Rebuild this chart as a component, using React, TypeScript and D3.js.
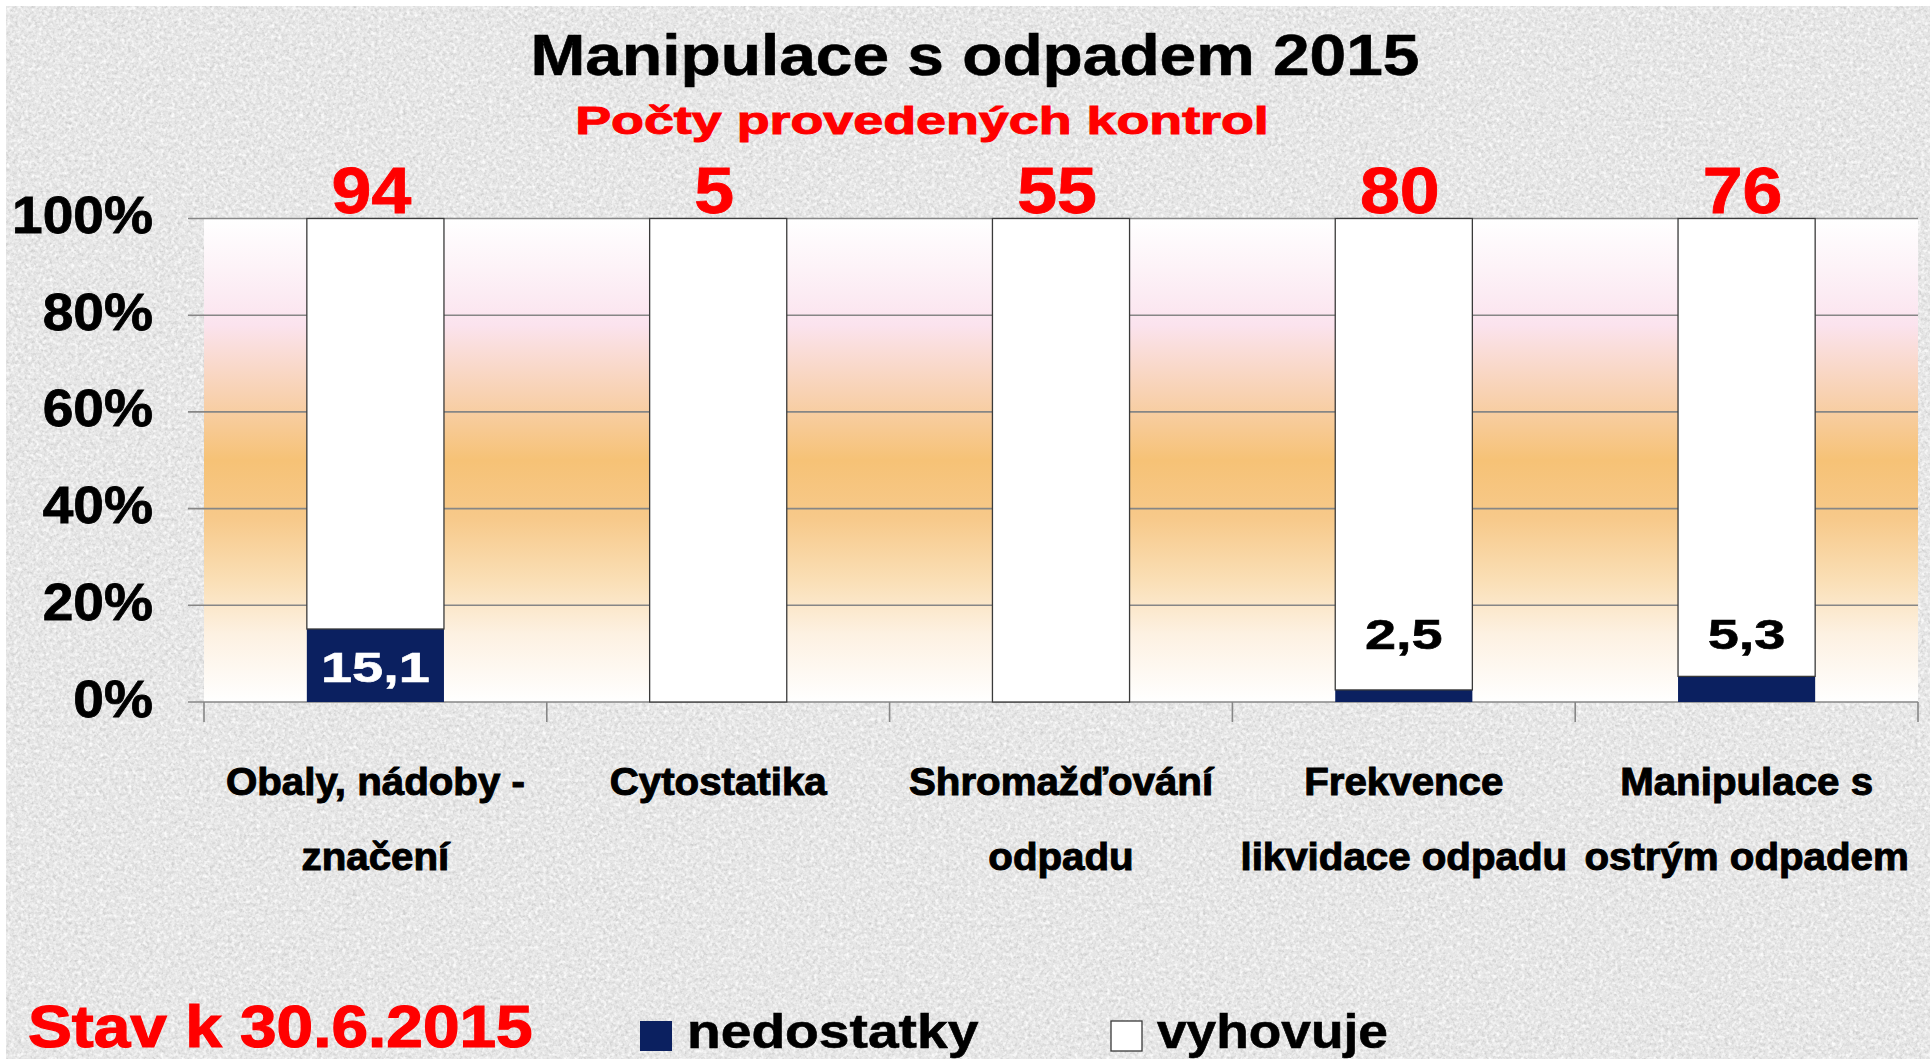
import React from "react";
import * as d3 from "d3";

const categoryLines: string[][] = [
  ["Obaly, nádoby -", "značení"],
  ["Cytostatika"],
  ["Shromažďování", "odpadu"],
  ["Frekvence", "likvidace odpadu"],
  ["Manipulace s", "ostrým odpadem"],
];
const categories = categoryLines.map((l) => l.join(" "));
const counts = [94, 5, 55, 80, 76];
const nedostatky = [15.1, 0, 0, 2.5, 5.3];
const vyhovuje = [84.9, 100, 100, 97.5, 94.7];
const yTicks = [0, 20, 40, 60, 80, 100];
const seriesKeys = ["nedostatky", "vyhovuje"];
const seriesColors = ["#0b2060", "#ffffff"];

const W = 1930;
const H = 1059;
const FONT = "'Liberation Sans', Arial, Helvetica, sans-serif";

export default function App() {
  const rows = categories.map((c, i) => ({
    cat: c,
    nedostatky: nedostatky[i],
    vyhovuje: vyhovuje[i],
  }));
  const stacked = d3.stack<any>().keys(seriesKeys)(rows);

  const xCat = d3.scaleBand<string>().domain(categories).range([204, 1918]).padding(0);
  const x = d3
    .scaleBand<string>()
    .domain(categories)
    .range([204, 1918])
    .paddingInner(0.6)
    .paddingOuter(0.3);
  const y = d3.scaleLinear().domain([0, 100]).range([702, 218.5]);
  const fmt = d3.formatLocale({ decimal: ",", thousands: " ", grouping: [3], currency: ["", " Kč"] }).format(".1f");

  const plotL = xCat.range()[0];
  const plotR = xCat.range()[1];

  return (
    <svg
      width={W}
      height={H}
      style={{ position: "absolute", left: 0, top: 0, display: "block" }}
      fontFamily={FONT}
      fontWeight="bold"
    >
      <defs>
        <filter id="noise" x="0" y="0" width="100%" height="100%">
          <feTurbulence type="fractalNoise" baseFrequency="0.32" numOctaves="3" seed="7" result="t" />
          <feColorMatrix
            in="t"
            type="matrix"
            values="0 0 0 0 0.6  0 0 0 0 0.6  0 0 0 0 0.6  2.2 0 0 0 -0.95"
          />
        </filter>
        <filter id="noise2" x="0" y="0" width="100%" height="100%">
          <feTurbulence type="fractalNoise" baseFrequency="0.28" numOctaves="2" seed="21" result="t" />
          <feColorMatrix
            in="t"
            type="matrix"
            values="0 0 0 0 1  0 0 0 0 1  0 0 0 0 1  2.2 0 0 0 -0.95"
          />
        </filter>
        <linearGradient id="band" x1="0" y1="0" x2="0" y2="1">
          <stop offset="0" stopColor="#ffffff" />
          <stop offset="0.1" stopColor="#fdf3f8" />
          <stop offset="0.22" stopColor="#fbe3ee" />
          <stop offset="0.36" stopColor="#f8d2b3" />
          <stop offset="0.5" stopColor="#f6c276" />
          <stop offset="0.62" stopColor="#f7c98a" />
          <stop offset="0.75" stopColor="#fadfb6" />
          <stop offset="0.86" stopColor="#fdf1e2" />
          <stop offset="1" stopColor="#ffffff" />
        </linearGradient>
      </defs>

      {/* textured background */}
      <rect x={0} y={0} width={W} height={H} fill="#ffffff" />
      <rect x={6} y={6} width={W - 6} height={H - 6} fill="#e6e6e6" />
      <rect x={6} y={6} width={W - 6} height={H - 6} filter="url(#noise)" />
      <rect x={6} y={6} width={W - 6} height={H - 6} filter="url(#noise2)" />

      {/* plot area */}
      <rect x={plotL} y={y(100)} width={plotR - plotL} height={y(0) - y(100)} fill="url(#band)" />

      {/* gridlines */}
      {yTicks.map((t) => (
        <line key={t} x1={188} x2={plotR} y1={y(t)} y2={y(t)} stroke="#868686" strokeWidth={1.6} />
      ))}

      {/* category ticks */}
      {[...categories.map((c) => xCat(c) as number), plotR].map((xx, i) => (
        <line key={i} x1={xx} x2={xx} y1={y(0)} y2={y(0) + 20} stroke="#868686" strokeWidth={1.6} />
      ))}

      {/* bars */}
      {stacked.map((s, si) =>
        s.map((d, i) => (
          <rect
            key={si + "-" + i}
            x={x(categories[i])}
            y={y(d[1])}
            width={x.bandwidth()}
            height={Math.max(0, y(d[0]) - y(d[1]))}
            fill={seriesColors[si]}
            stroke={si === 1 ? "#3a3a3a" : "none"}
            strokeWidth={1.3}
          />
        ))
      )}

      {/* y labels */}
      {yTicks.map((t) => (
        <text
          key={t}
          transform={`translate(153,${y(t) + 14.5}) scale(1.06,1)`}
          textAnchor="end"
          fontSize={52}
          fill="#000"
          stroke="#000"
          strokeWidth={0.8}
        >
          {t + "%"}
        </text>
      ))}

      {/* data labels */}
      {nedostatky.map((v, i) => {
        if (!v) return null;
        const inside = v > 10;
        const cx = (x(categories[i]) as number) + x.bandwidth() / 2;
        const by = inside ? y(v / 2) + 17 : y(11);
        return (
          <text
            key={i}
            transform={`translate(${cx},${by}) scale(1.3,1)`}
            textAnchor="middle"
            fontSize={43}
            fill={inside ? "#ffffff" : "#000000"}
            stroke={inside ? "#ffffff" : "#000000"}
            strokeWidth={0.6}
          >
            {fmt(v)}
          </text>
        );
      })}

      {/* counts */}
      {counts.map((c, i) => (
        <text
          key={i}
          transform={`translate(${(xCat(categories[i]) as number) + xCat.bandwidth() / 2 - 4},213) scale(1.12,1)`}
          textAnchor="middle"
          fontSize={64}
          fill="#ff0000"
          stroke="#ff0000"
          strokeWidth={0.8}
        >
          {c}
        </text>
      ))}

      {/* category labels */}
      {categoryLines.map((lines, i) =>
        lines.map((ln, li) => (
          <text
            key={i + "-" + li}
            transform={`translate(${(xCat(categories[i]) as number) + xCat.bandwidth() / 2},${795 + li * 75}) scale(1.06,1)`}
            textAnchor="middle"
            fontSize={38}
            fill="#000"
            stroke="#000"
            strokeWidth={1}
          >
            {ln}
          </text>
        ))
      )}

      {/* title */}
      <text transform="translate(975,75) scale(1.155,1)" textAnchor="middle" fontSize={57} fill="#000" stroke="#000" strokeWidth={0.6}>
        Manipulace s odpadem 2015
      </text>
      <text
        transform="translate(922,134) scale(1.38,1)"
        textAnchor="middle"
        fontSize={39}
        fill="#ff0000"
        stroke="#ff0000"
        strokeWidth={1}
      >
        Počty provedených kontrol
      </text>

      {/* footer */}
      <text
        transform="translate(28,1047) scale(1.115,1)"
        fontSize={59}
        fill="#ff0000"
        stroke="#ff0000"
        strokeWidth={1.2}
      >
        Stav k 30.6.2015
      </text>

      {/* legend */}
      <rect x={640} y={1021} width={32} height={30} fill={seriesColors[0]} />
      <text transform="translate(687,1048) scale(1.15,1)" fontSize={48} fill="#000" stroke="#000" strokeWidth={0.6}>
        {seriesKeys[0]}
      </text>
      <rect x={1111} y={1021} width={31} height={30} fill={seriesColors[1]} stroke="#3a3a3a" strokeWidth={1.3} />
      <text transform="translate(1157,1048) scale(1.11,1)" fontSize={48} fill="#000" stroke="#000" strokeWidth={0.6}>
        {seriesKeys[1]}
      </text>
    </svg>
  );
}
